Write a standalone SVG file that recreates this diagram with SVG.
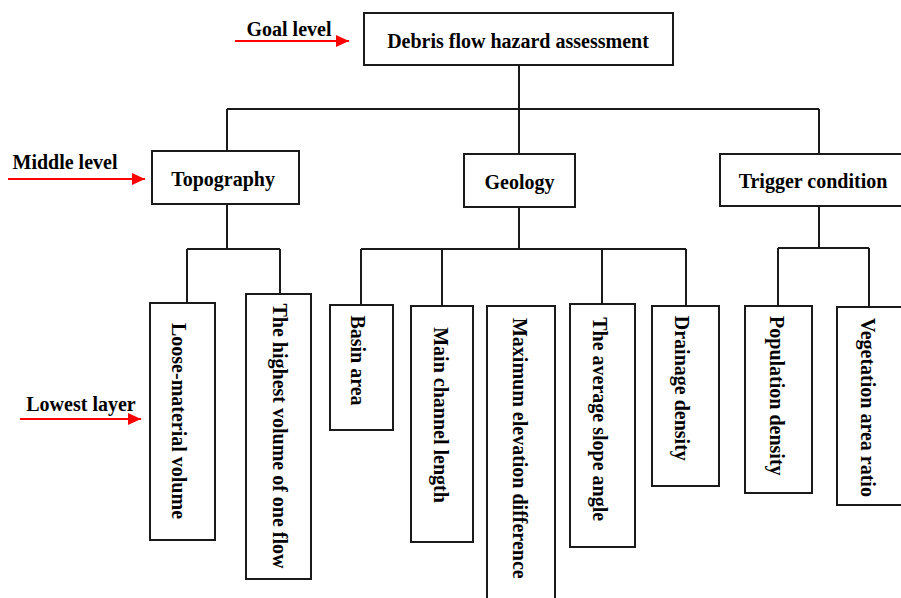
<svg xmlns="http://www.w3.org/2000/svg" width="901" height="598" viewBox="0 0 901 598">
<style>
.box{fill:#fff;stroke:#1a1a1a;stroke-width:2}
.ln{fill:none;stroke:#1a1a1a;stroke-width:2}
.t{font-family:"Liberation Serif","Times New Roman",serif;font-weight:bold;font-size:20px;fill:#000}
.tm{text-anchor:middle}
.arr{stroke:#ff0000;stroke-width:2;fill:none}
</style>
<defs>
<marker id="ah" markerUnits="userSpaceOnUse" markerWidth="14" markerHeight="14" refX="13" refY="6" orient="auto">
<path d="M0,0 L13,6 L0,12 Z" fill="#ff0000"/>
</marker>
</defs>
<rect width="901" height="598" fill="#fff"/>
<g id="connectors">
<path class="ln" d="M519,65 V109 M227,109 H819 M227,109 V151 M519,109 V154 M819,109 V154"/>
<path class="ln" d="M227,204 V249 M187,249 H280 M187,249 V303 M280,249 V294"/>
<path class="ln" d="M519,207 V249 M361,249 H686 M361,249 V305 M442,249 V306 M602,249 V304 M686,249 V306"/>
<path class="ln" d="M819,206 V248 M778,248 H869 M778,248 V306 M869,248 V307"/>
</g>
<g id="levels">
<text class="t tm" x="289" y="36">Goal level</text>
<line class="arr" x1="235" y1="41" x2="349" y2="41" marker-end="url(#ah)"/>
<text class="t tm" x="65" y="169">Middle level</text>
<line class="arr" x1="8" y1="179" x2="145" y2="179" marker-end="url(#ah)"/>
<text class="t tm" x="81" y="411">Lowest layer</text>
<line class="arr" x1="20" y1="419" x2="141" y2="419" marker-end="url(#ah)"/>
</g>
<g id="goal"><rect class="box" x="364" y="13" width="309" height="52"/><text class="t tm" x="518" y="47.5">Debris flow hazard assessment</text></g>
<g id="topography"><rect class="box" x="152" y="151" width="147" height="53"/><text class="t tm" x="223" y="185.5">Topography</text></g>
<g id="geology"><rect class="box" x="464" y="154" width="111" height="53"/><text class="t tm" x="519.5" y="189">Geology</text></g>
<g id="trigger"><rect class="box" x="720" y="154" width="200" height="52"/><text class="t tm" x="813" y="188">Trigger condition</text></g>
<g id="loose"><rect class="box" x="150" y="303" width="65" height="237"/><text class="t tm" transform="translate(172.4,421) rotate(90)">Loose-material volume</text></g>
<g id="highest"><rect class="box" x="246" y="294" width="65" height="285"/><text class="t tm" transform="translate(273.2,436) rotate(90)">The highest volume of one flow</text></g>
<g id="basin"><rect class="box" x="330" y="305" width="63" height="125"/><text class="t tm" transform="translate(350.9,360.5) rotate(90)">Basin area</text></g>
<g id="channel"><rect class="box" x="411" y="306" width="62" height="236"/><text class="t tm" transform="translate(434.2,415) rotate(90)">Main channel length</text></g>
<g id="elevation"><rect class="box" x="487" y="306" width="68" height="320"/><text class="t tm" transform="translate(512.6,448.3) rotate(90)">Maximum elevation difference</text></g>
<g id="slope"><rect class="box" x="570" y="304" width="65" height="243"/><text class="t tm" transform="translate(592.6,419.2) rotate(90)">The average slope angle</text></g>
<g id="drainage"><rect class="box" x="652" y="306" width="67" height="180"/><text class="t tm" transform="translate(675.1,388.3) rotate(90)">Drainage density</text></g>
<g id="population"><rect class="box" x="745" y="306" width="67" height="187"/><text class="t tm" transform="translate(769.6,395.8) rotate(90)">Population density</text></g>
<g id="vegetation"><rect class="box" x="837" y="307" width="100" height="198"/><text class="t tm" transform="translate(860.9,407.5) rotate(90)">Vegetation area ratio</text></g>
</svg>
